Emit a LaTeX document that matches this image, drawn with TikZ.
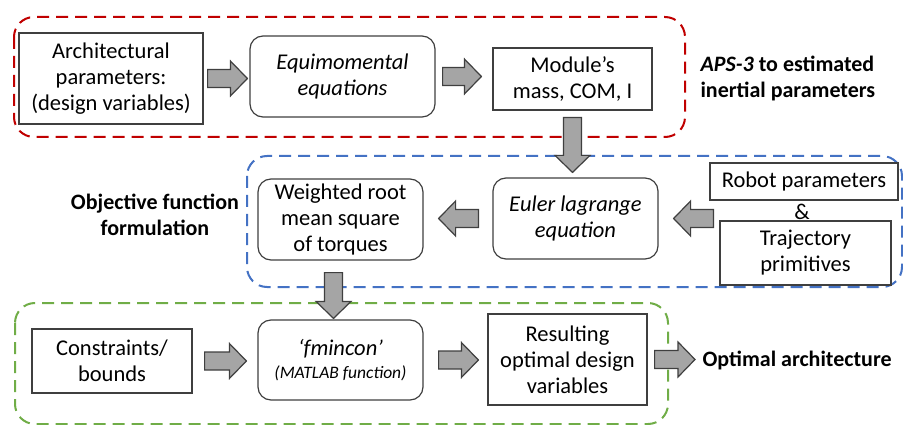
\documentclass[tikz,border=0pt]{standalone}
\usepackage{fontspec}
\setmainfont{Carlito}
\usetikzlibrary{calc}

\definecolor{framered}{HTML}{C00000}
\definecolor{frameblue}{HTML}{4472C4}
\definecolor{framegreen}{HTML}{70AD47}
\definecolor{arrowgray}{HTML}{A5A5A5}
\definecolor{edgegray}{HTML}{3F3F3F}

% fat block arrow: from #1 to #2, leaving gaps #3 and #4
\newcommand{\fatarrow}[4]{%
	\draw[block arrow] let \p1=($(#1)!#3!(#2)$), \p2=($(#2)!#4!(#1)$), \p3=($(\p2)!17pt!(\p1)$) in
		($(\p1)!9pt!90:(\p2)$) -- ($(\p3)!9pt!90:(\p2)$) -- ($(\p3)!17.5pt!90:(\p2)$) -- (\p2)
		-- ($(\p3)!17.5pt!-90:(\p2)$) -- ($(\p3)!9pt!-90:(\p2)$) -- ($(\p1)!9pt!-90:(\p2)$) -- cycle;
}

\begin{document}
\begin{tikzpicture}[x=1pt,y=-1pt,font=\fontsize{22.5}{26}\selectfont]
		\tikzstyle{block arrow}=[fill=arrowgray,draw=edgegray,line width=1.2pt,line join=miter]
		\tikzstyle{box}=[draw=edgegray,line width=1.2pt,align=center,inner sep=2pt]
		\tikzstyle{round box}=[box,rounded corners=13pt]
		\tikzstyle{frame}=[line width=2pt,dash pattern=on 12pt off 7pt,rounded corners=20pt]
		\tikzstyle{annot}=[font=\fontsize{22}{26}\selectfont\bfseries]
		
		\useasboundingbox (0,0) rectangle (903,425);
		
		% Dashed frames round the three stages
		\draw[frame,framered] (14,17) rectangle (685,137);
		\draw[frame,frameblue] (247,156) rectangle (902,287);
		\draw[frame,framegreen] (15,303) rectangle (668,424);
		
		% First stage
		\node[box,minimum width=184,minimum height=91] (A) at (111,78.5) {Architectural\\parameters:\\(design variables)};
		\node[round box,minimum width=185,minimum height=81] (B) at (342.5,76.5) {\itshape Equimomental\\\itshape equations};
		\node[box,minimum width=159,minimum height=62] (C) at (572.5,79) {Module’s\\mass, COM, I};
		\node[annot,anchor=west,align=left] (aps) at (697,78) {\textit{APS-3} to estimated\\inertial parameters};
		
		% Second stage
		\node[round box,minimum width=165,minimum height=81] (E) at (340.5,219.5) {Weighted root\\mean square\\of torques};
		\node[round box,minimum width=165,minimum height=81] (F) at (575.5,218.5) {\itshape Euler lagrange\\\itshape equation};
		\node[box,minimum width=188,minimum height=37] (G) at (804,181.5) {Robot parameters};
		\node (amp) at (802,212) {\&};
		\node[box,minimum width=171,minimum height=64] (H) at (805.5,253) {Trajectory\\primitives};
		\node[annot,align=center] (obj) at (155,215) {Objective function\\formulation};
		
		% Third stage
		\node[box,minimum width=160,minimum height=64] (I) at (112,361) {Constraints/\\bounds};
		\node[round box,minimum width=165,minimum height=80] (J) at (340.5,360) {\itshape ‘fmincon’\\[-3pt]{\fontsize{17.5}{20}\selectfont\itshape (MATLAB function)}};
		\node[box,minimum width=159,minimum height=91] (K) at (567.5,359.5) {Resulting\\optimal design\\variables};
		\node[annot,anchor=west] (opt) at (699,360) {Optimal architecture};
		
		% Block arrows between the boxes
		\coordinate (Cdown) at (C.south);
		\coordinate (Edown) at ($(E.south)+(-7,0)$);
		\fatarrow{A.east}{A.east-|B.west}{4pt}{2pt}
		\fatarrow{B.east}{B.east-|C.west}{7pt}{11pt}
		\fatarrow{Cdown}{Cdown|-F.north}{7pt}{5pt}
		\fatarrow{H.west|-F.east}{F.east}{6pt}{15pt}
		\fatarrow{F.west}{F.west-|E.east}{14pt}{15pt}
		\fatarrow{Edown}{Edown|-J.north}{12pt}{1pt}
		\fatarrow{I.east}{I.east-|J.west}{12pt}{11pt}
		\fatarrow{J.east}{J.east-|K.west}{15pt}{9pt}
		\fatarrow{K.east}{K.east-|opt.west}{7pt}{4pt}
\end{tikzpicture}
\end{document}
